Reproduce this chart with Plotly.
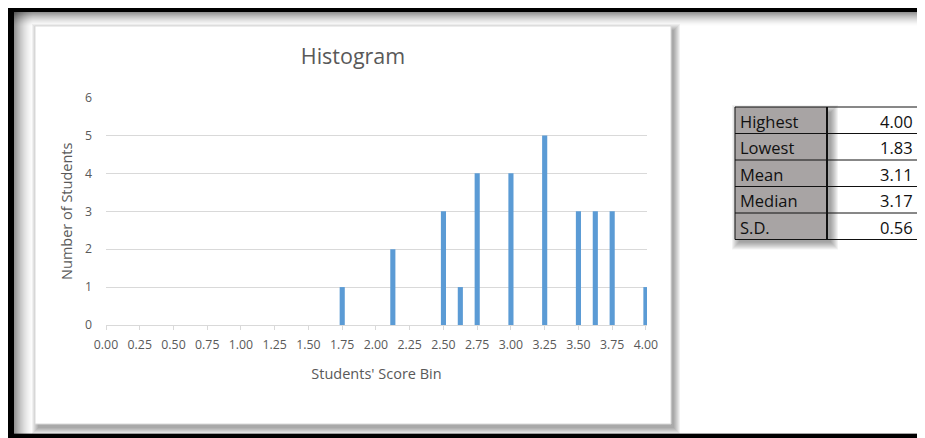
import plotly.graph_objects as go

# ---- data ----
score_bins = [1.75, 2.125, 2.5, 2.625, 2.75, 3.0, 3.25, 3.5, 3.625, 3.75, 4.0]
counts = [1, 2, 3, 1, 4, 4, 5, 3, 3, 3, 1]
x_ticks = [i * 0.25 for i in range(17)]
x_tick_labels = [f"{v:.2f}" for v in x_ticks]
y_ticks = [0, 1, 2, 3, 4, 5, 6]
stat_labels = ["Highest", "Lowest", "Mean", "Median", "S.D."]
stat_values = ["4.00", "1.83", "3.11", "3.17", "0.56"]

# page has an 8px body margin: figure is 917x430 drawn at (8, 8)
OFF = 8
SW, SH = 925, 438
W, H = SW - OFF, SH - OFF
FONT = "Open Sans, Noto Sans, Arial, sans-serif"
GRAY_TXT = "#595959"


def px(x):
    return (x - OFF) / W


def py(y):
    return 1 - (y - OFF) / H


shapes = []


def rect(x0, y0, x1, y1, fill, line=None, lw=0, layer="below"):
    shapes.append(dict(type="rect", xref="paper", yref="paper",
                       x0=px(x0), x1=px(x1), y0=py(y1), y1=py(y0),
                       fillcolor=fill,
                       line=dict(color=line or "rgba(0,0,0,0)", width=lw),
                       layer=layer))


def hline(x0, x1, y, color, lw=1):
    shapes.append(dict(type="line", xref="paper", yref="paper",
                       x0=px(x0), x1=px(x1), y0=py(y), y1=py(y),
                       line=dict(color=color, width=lw), layer="above"))


def vline(x, y0, y1, color, lw=1):
    shapes.append(dict(type="line", xref="paper", yref="paper",
                       x0=px(x), x1=px(x), y0=py(y0), y1=py(y1),
                       line=dict(color=color, width=lw), layer="above"))


# inner shadow of the black frame
n = 14
for i in range(n):
    a = 0.42 * (1 - i / n) ** 1.6
    rect(14, 12 + i, SW, 13 + i, f"rgba(0,0,0,{a:.3f})")
n = 19
for i in range(n):
    a = 0.42 * (1 - i / n) ** 1.6
    rect(14 + i, 12, 15 + i, 434, f"rgba(0,0,0,{a:.3f})")

# black frame
rect(OFF, OFF, SW, 12, "black")
rect(OFF, OFF, 14, SH, "black")
rect(OFF, 434, SW, SH, "black")
rect(OFF, 433, SW, 434, "rgba(0,0,0,0.35)")

# chart box shadow
for r in range(7):
    rect(38 - r, 30 - r, 674 + r, 428 + r, "rgba(0,0,0,0.055)")
# chart box
rect(35, 26, 671, 424, "white", line="#d9d9d9", lw=1)

# ---- statistics table ----
tx0, tdiv, tx1 = 735, 827, 918
ty0, rh = 107, 26.5
ty1 = ty0 + rh * len(stat_labels)
rect(tx0, ty0, tx1, ty1, "white", layer="above")
for r in range(8):
    rect(tx0 + 4 - r, ty0 + 5 - r, tdiv + 4 + r, ty1 + 3 + r,
         "rgba(0,0,0,0.05)", layer="above")
rect(tx0, ty0, tdiv, ty1, "#a8a4a4", layer="above")
for i in range(len(stat_labels) + 1):
    hline(tx0, tx1, ty0 + i * rh, "#111111", 1)
vline(tx0, ty0, ty1, "#111111", 1)
vline(tx1, ty0, ty1, "#111111", 1)
vline(tdiv, ty0, ty1, "#111111", 2)

annotations = []
for i, (lab, val) in enumerate(zip(stat_labels, stat_values)):
    yc = ty0 + rh * (i + 0.5) + 1
    annotations.append(dict(text=lab, xref="paper", yref="paper",
                            x=px(tx0 + 3), y=py(yc), xanchor="left",
                            yanchor="middle", showarrow=False,
                            font=dict(family=FONT, size=16.5, color="#111111")))
    annotations.append(dict(text=val, xref="paper", yref="paper",
                            x=px(tx1 - 3), y=py(yc), xanchor="right",
                            yanchor="middle", showarrow=False,
                            font=dict(family=FONT, size=16.5, color="#111111")))

fig = go.Figure()
fig.add_trace(go.Bar(x=score_bins, y=counts, width=0.038,
                     marker=dict(color="#5b9bd5", line=dict(width=0)),
                     hoverinfo="x+y"))

fig.update_layout(
    width=W, height=H,
    margin=dict(l=0, r=0, t=0, b=0),
    paper_bgcolor="white",
    plot_bgcolor="rgba(0,0,0,0)",
    showlegend=False,
    shapes=shapes,
    annotations=annotations,
    title=dict(text="Histogram", xref="paper", yref="paper",
               x=px(353), y=py(56), xanchor="center", yanchor="middle",
               font=dict(family=FONT, size=21.5, color=GRAY_TXT)),
    xaxis=dict(domain=[px(106), px(647)], range=[0, 4.008],
               tickmode="array", tickvals=x_ticks, ticktext=x_tick_labels,
               ticks="outside", ticklen=4, tickcolor="#d9d9d9", tickwidth=1,
               showgrid=False, zeroline=False,
               showline=True, linecolor="#d9d9d9", linewidth=1,
               tickfont=dict(family=FONT, size=12.3, color=GRAY_TXT),
               ticklabelstandoff=4,
               title=dict(text="Students' Score Bin", standoff=17,
                          font=dict(family=FONT, size=14.5, color=GRAY_TXT)),
               automargin=False, fixedrange=True),
    yaxis=dict(domain=[py(325), py(97.5)], range=[0, 6],
               tickmode="array", tickvals=y_ticks,
               showgrid=True, gridcolor="#d9d9d9", gridwidth=1,
               zeroline=False, showline=False, ticks="",
               tickfont=dict(family=FONT, size=12.3, color=GRAY_TXT),
               ticklabelstandoff=13,
               title=dict(text="Number of Students", standoff=8,
                          font=dict(family=FONT, size=14.5, color=GRAY_TXT)),
               automargin=False, fixedrange=True),
)

fig.write_html("out.html")
